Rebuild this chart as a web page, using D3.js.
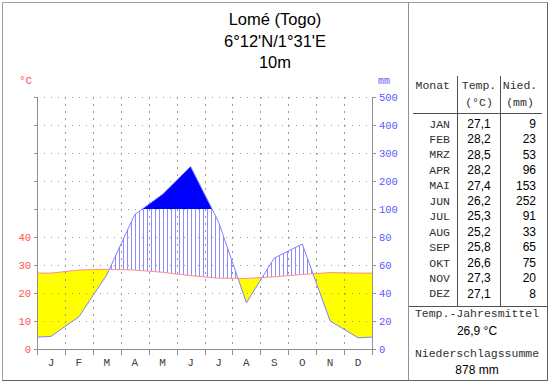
<!DOCTYPE html>
<html>
<head>
<meta charset="utf-8">
<script src="https://cdn.jsdelivr.net/npm/d3@7"></script>
<style>
  body { margin: 0; background: #fff; }
  svg { display: block; }
  .mono { font-family: "Liberation Mono", "DejaVu Sans Mono", monospace; }
  .sans { font-family: "Liberation Sans", Arial, sans-serif; }
</style>
</head>
<body>
<svg width="550" height="384"></svg>
<script>
// climate data Lomé
const months = ['J','F','M','A','M','J','J','A','S','O','N','D'];
const monthNames = ['JAN','FEB','MRZ','APR','MAI','JUN','JUL','AUG','SEP','OKT','NOV','DEZ'];
const temp = [27.1, 28.2, 28.5, 28.2, 27.4, 26.2, 25.3, 25.2, 25.8, 26.6, 27.3, 27.1];
const precip = [9, 23, 53, 96, 153, 252, 91, 33, 65, 75, 20, 8];
const tempTicks = [0, 10, 20, 30, 40];
const precipTicks = [0, 20, 40, 60, 80, 100, 200, 300, 400, 500];
const titleLines = ['Lomé (Togo)', "6°12'N/1°31'E", '10m'];

const svg = d3.select('svg');

// frame
svg.append('rect')
  .attr('x', 2.5).attr('y', 2.5).attr('width', 545).attr('height', 378)
  .attr('fill', 'none').attr('stroke', '#a0a0a0');
svg.append('path').attr('d', 'M547.5,2.5V380.5H2.5')
  .attr('fill', 'none').attr('stroke', '#606060');
svg.append('line')
  .attr('x1', 408.5).attr('x2', 408.5).attr('y1', 2.5).attr('y2', 380.5)
  .attr('stroke', '#909090');

// titles
svg.selectAll('.title')
  .data(titleLines)
  .enter()
  .append('text')
  .attr('class', 'sans')
  .attr('x', 275)
  .attr('y', (d, i) => 25 + i * 21.5)
  .attr('text-anchor', 'middle')
  .attr('font-size', '16.5px')
  .attr('fill', '#000')
  .text(d => d);

// scales
const x = d3.scaleLinear().domain([0, 12]).range([37, 372]);
const yT = d3.scaleLinear().domain([0, 90]).range([349, 97]);
const yP = d3.scaleLinear().domain([0, 100, 500]).range([349, yT(50), yT(90)]);
const y100 = yP(100);

// points incl. wrap at both edges
const edgeT = (yT(temp[11]) + yT(temp[0])) / 2;
const edgeP = (yP(precip[11]) + yP(precip[0])) / 2;
const pts = [{ x: x(0), ty: edgeT, py: edgeP }];
temp.forEach((t, i) => pts.push({ x: x(i + 0.5), ty: yT(t), py: yP(precip[i]) }));
pts.push({ x: x(12), ty: edgeT, py: edgeP });

const between = d3.area().x(d => d.x).y0(d => d.ty).y1(d => d.py);

const defs = svg.append('defs');
defs.append('clipPath').attr('id', 'belowTemp')
  .append('path')
  .attr('d', d3.area().x(d => d.x).y0(400).y1(d => d.ty)(pts));
defs.append('clipPath').attr('id', 'aboveTemp')
  .append('path')
  .attr('d', d3.area().x(d => d.x).y0(d => d.ty).y1(0)(pts));
defs.append('clipPath').attr('id', 'betweenArea')
  .append('path')
  .attr('d', between(pts));
defs.append('clipPath').attr('id', 'below100')
  .append('rect').attr('x', 0).attr('y', y100).attr('width', 550).attr('height', 200);
defs.append('clipPath').attr('id', 'above100')
  .append('rect').attr('x', 0).attr('y', 0).attr('width', 550).attr('height', y100);

// arid
svg.append('path')
  .attr('d', between(pts))
  .attr('fill', '#ffff00')
  .attr('clip-path', 'url(#belowTemp)');

// humid: vertical hatching
svg.append('g')
  .attr('clip-path', 'url(#below100)')
  .append('g')
  .attr('clip-path', 'url(#aboveTemp)')
  .append('g')
  .attr('clip-path', 'url(#betweenArea)')
  .selectAll('line')
  .data(d3.range(39.5, 372, 4))
  .enter()
  .append('line')
  .attr('x1', d => d).attr('x2', d => d)
  .attr('y1', yT(90)).attr('y2', yT(0))
  .attr('stroke', '#8c8cff')
  .attr('stroke-width', 1);

// grid dotted
const grid = svg.append('g').attr('stroke', '#9a9a9a').attr('stroke-width', 1);
grid.selectAll('.hg')
  .data(d3.range(10, 100, 10))
  .enter()
  .append('line')
  .attr('x1', x(0)).attr('x2', x(12))
  .attr('y1', d => Math.round(yT(d)) + 0.5)
  .attr('y2', d => Math.round(yT(d)) + 0.5)
  .attr('stroke-dasharray', '1,6');
grid.selectAll('.vg')
  .data(d3.range(1, 12))
  .enter()
  .append('line')
  .attr('x1', d => Math.round(x(d)) + 0.5)
  .attr('x2', d => Math.round(x(d)) + 0.5)
  .attr('y1', yT(90)).attr('y2', yT(0))
  .attr('stroke-dasharray', '2,5');

// precipitation above 100 mm
svg.append('path')
  .attr('d', d3.area().x(d => d.x).y0(y100).y1(d => d.py)(pts))
  .attr('fill', '#0000ff')
  .attr('clip-path', 'url(#above100)');

// curves
svg.append('path')
  .attr('d', d3.line().x(d => d.x).y(d => d.py)(pts))
  .attr('fill', 'none').attr('stroke', '#8080ff').attr('stroke-width', 1);
svg.append('path')
  .attr('d', d3.line().x(d => d.x).y(d => d.ty)(pts))
  .attr('fill', 'none').attr('stroke', '#ff8c8c').attr('stroke-width', 1);

// axes
const axisCol = '#909090';
svg.append('path')
  .attr('d', `M${x(0) + 0.5},${yT(90)}V${yT(0) + 0.5}H${x(12) + 0.5}V${yT(90)}`)
  .attr('fill', 'none').attr('stroke', axisCol);

// left ticks
svg.selectAll('.lt')
  .data(d3.range(0, 100, 10))
  .enter()
  .append('line')
  .attr('x1', x(0) - 3).attr('x2', x(0))
  .attr('y1', d => Math.round(yT(d)) + 0.5).attr('y2', d => Math.round(yT(d)) + 0.5)
  .attr('stroke', axisCol);
// right ticks
svg.selectAll('.rt')
  .data(precipTicks)
  .enter()
  .append('line')
  .attr('x1', x(12)).attr('x2', x(12) + 4)
  .attr('y1', d => Math.round(yP(d)) + 0.5).attr('y2', d => Math.round(yP(d)) + 0.5)
  .attr('stroke', axisCol);
// bottom ticks
svg.selectAll('.bt')
  .data(d3.range(0, 13))
  .enter()
  .append('line')
  .attr('x1', d => Math.round(x(d)) + 0.5).attr('x2', d => Math.round(x(d)) + 0.5)
  .attr('y1', yT(0)).attr('y2', yT(0) + 6)
  .attr('stroke', axisCol);

svg.selectAll('.ll')
  .data(tempTicks)
  .enter()
  .append('text')
  .attr('class', 'mono')
  .attr('x', 31)
  .attr('y', d => yT(d))
  .attr('dy', '0.35em')
  .attr('text-anchor', 'end')
  .attr('font-size', '10.5px')
  .attr('fill', '#ff5050')
  .text(d => d);

svg.selectAll('.rl')
  .data(precipTicks)
  .enter()
  .append('text')
  .attr('class', 'mono')
  .attr('x', 379)
  .attr('y', d => yP(d))
  .attr('dy', '0.35em')
  .attr('font-size', '10.5px')
  .attr('fill', '#5a5aff')
  .text(d => d);

svg.selectAll('.ml')
  .data(months)
  .enter()
  .append('text')
  .attr('class', 'mono')
  .attr('x', (d, i) => x(i + 0.5))
  .attr('y', 362)
  .attr('dy', '0.35em')
  .attr('text-anchor', 'middle')
  .attr('font-size', '11px')
  .attr('fill', '#404040')
  .text(d => d);

svg.append('text').attr('class', 'mono')
  .attr('x', 19).attr('y', 84).attr('font-size', '11px').attr('fill', '#ff5050')
  .text('°C');
svg.append('text').attr('class', 'mono')
  .attr('x', 378).attr('y', 84).attr('font-size', '10px').attr('fill', '#5a5aff')
  .text('mm');

// table
const tab = svg.append('g');
const rowY = i => 123.5 + i * 15.45;
const lineCol = '#505050';
tab.append('line').attr('x1', 457.5).attr('x2', 457.5).attr('y1', 76).attr('y2', 306)
  .attr('stroke', lineCol);
tab.append('line').attr('x1', 500.5).attr('x2', 500.5).attr('y1', 76).attr('y2', 306)
  .attr('stroke', lineCol);
tab.append('line').attr('x1', 413).attr('x2', 542).attr('y1', 113.5).attr('y2', 113.5)
  .attr('stroke', lineCol);
tab.append('line').attr('x1', 409).attr('x2', 547).attr('y1', 306.5).attr('y2', 306.5)
  .attr('stroke', lineCol);

const head = [
  { t: 'Monat', x: 450, y: 89, a: 'end' },
  { t: 'Temp.', x: 479, y: 89, a: 'middle' },
  { t: '(°C)', x: 479, y: 106, a: 'middle' },
  { t: 'Nied.', x: 520, y: 89, a: 'middle' },
  { t: '(mm)', x: 520, y: 106, a: 'middle' }
];
tab.selectAll('.hd')
  .data(head)
  .enter()
  .append('text')
  .attr('class', 'mono')
  .attr('x', d => d.x).attr('y', d => d.y)
  .attr('text-anchor', d => d.a)
  .attr('font-size', '11.5px')
  .attr('fill', '#303030')
  .text(d => d.t);

tab.selectAll('.mn')
  .data(monthNames)
  .enter()
  .append('text')
  .attr('class', 'mono')
  .attr('x', 450).attr('y', (d, i) => rowY(i)).attr('dy', '0.35em')
  .attr('text-anchor', 'end')
  .attr('font-size', '11.5px')
  .attr('fill', '#303030')
  .text(d => d);

tab.selectAll('.tv')
  .data(temp)
  .enter()
  .append('text')
  .attr('class', 'sans')
  .attr('x', 479).attr('y', (d, i) => rowY(i)).attr('dy', '0.35em')
  .attr('text-anchor', 'middle')
  .attr('font-size', '12px')
  .text(d => d.toFixed(1).replace('.', ','));

tab.selectAll('.pv')
  .data(precip)
  .enter()
  .append('text')
  .attr('class', 'sans')
  .attr('x', 536).attr('y', (d, i) => rowY(i)).attr('dy', '0.35em')
  .attr('text-anchor', 'end')
  .attr('font-size', '12px')
  .text(d => d);

const meanT = d3.mean(temp);
const sumP = d3.sum(precip);
tab.append('text').attr('class', 'mono')
  .attr('x', 477).attr('y', 317).attr('text-anchor', 'middle')
  .attr('font-size', '11.5px').attr('fill', '#303030')
  .text('Temp.-Jahresmittel');
tab.append('text').attr('class', 'sans')
  .attr('x', 477).attr('y', 335).attr('text-anchor', 'middle')
  .attr('font-size', '12px')
  .text(meanT.toFixed(1).replace('.', ',') + ' °C');
tab.append('text').attr('class', 'mono')
  .attr('x', 477).attr('y', 357).attr('text-anchor', 'middle')
  .attr('font-size', '11.5px').attr('fill', '#303030')
  .text('Niederschlagssumme');
tab.append('text').attr('class', 'sans')
  .attr('x', 477).attr('y', 374).attr('text-anchor', 'middle')
  .attr('font-size', '12px')
  .text(sumP + ' mm');
</script>
</body>
</html>
